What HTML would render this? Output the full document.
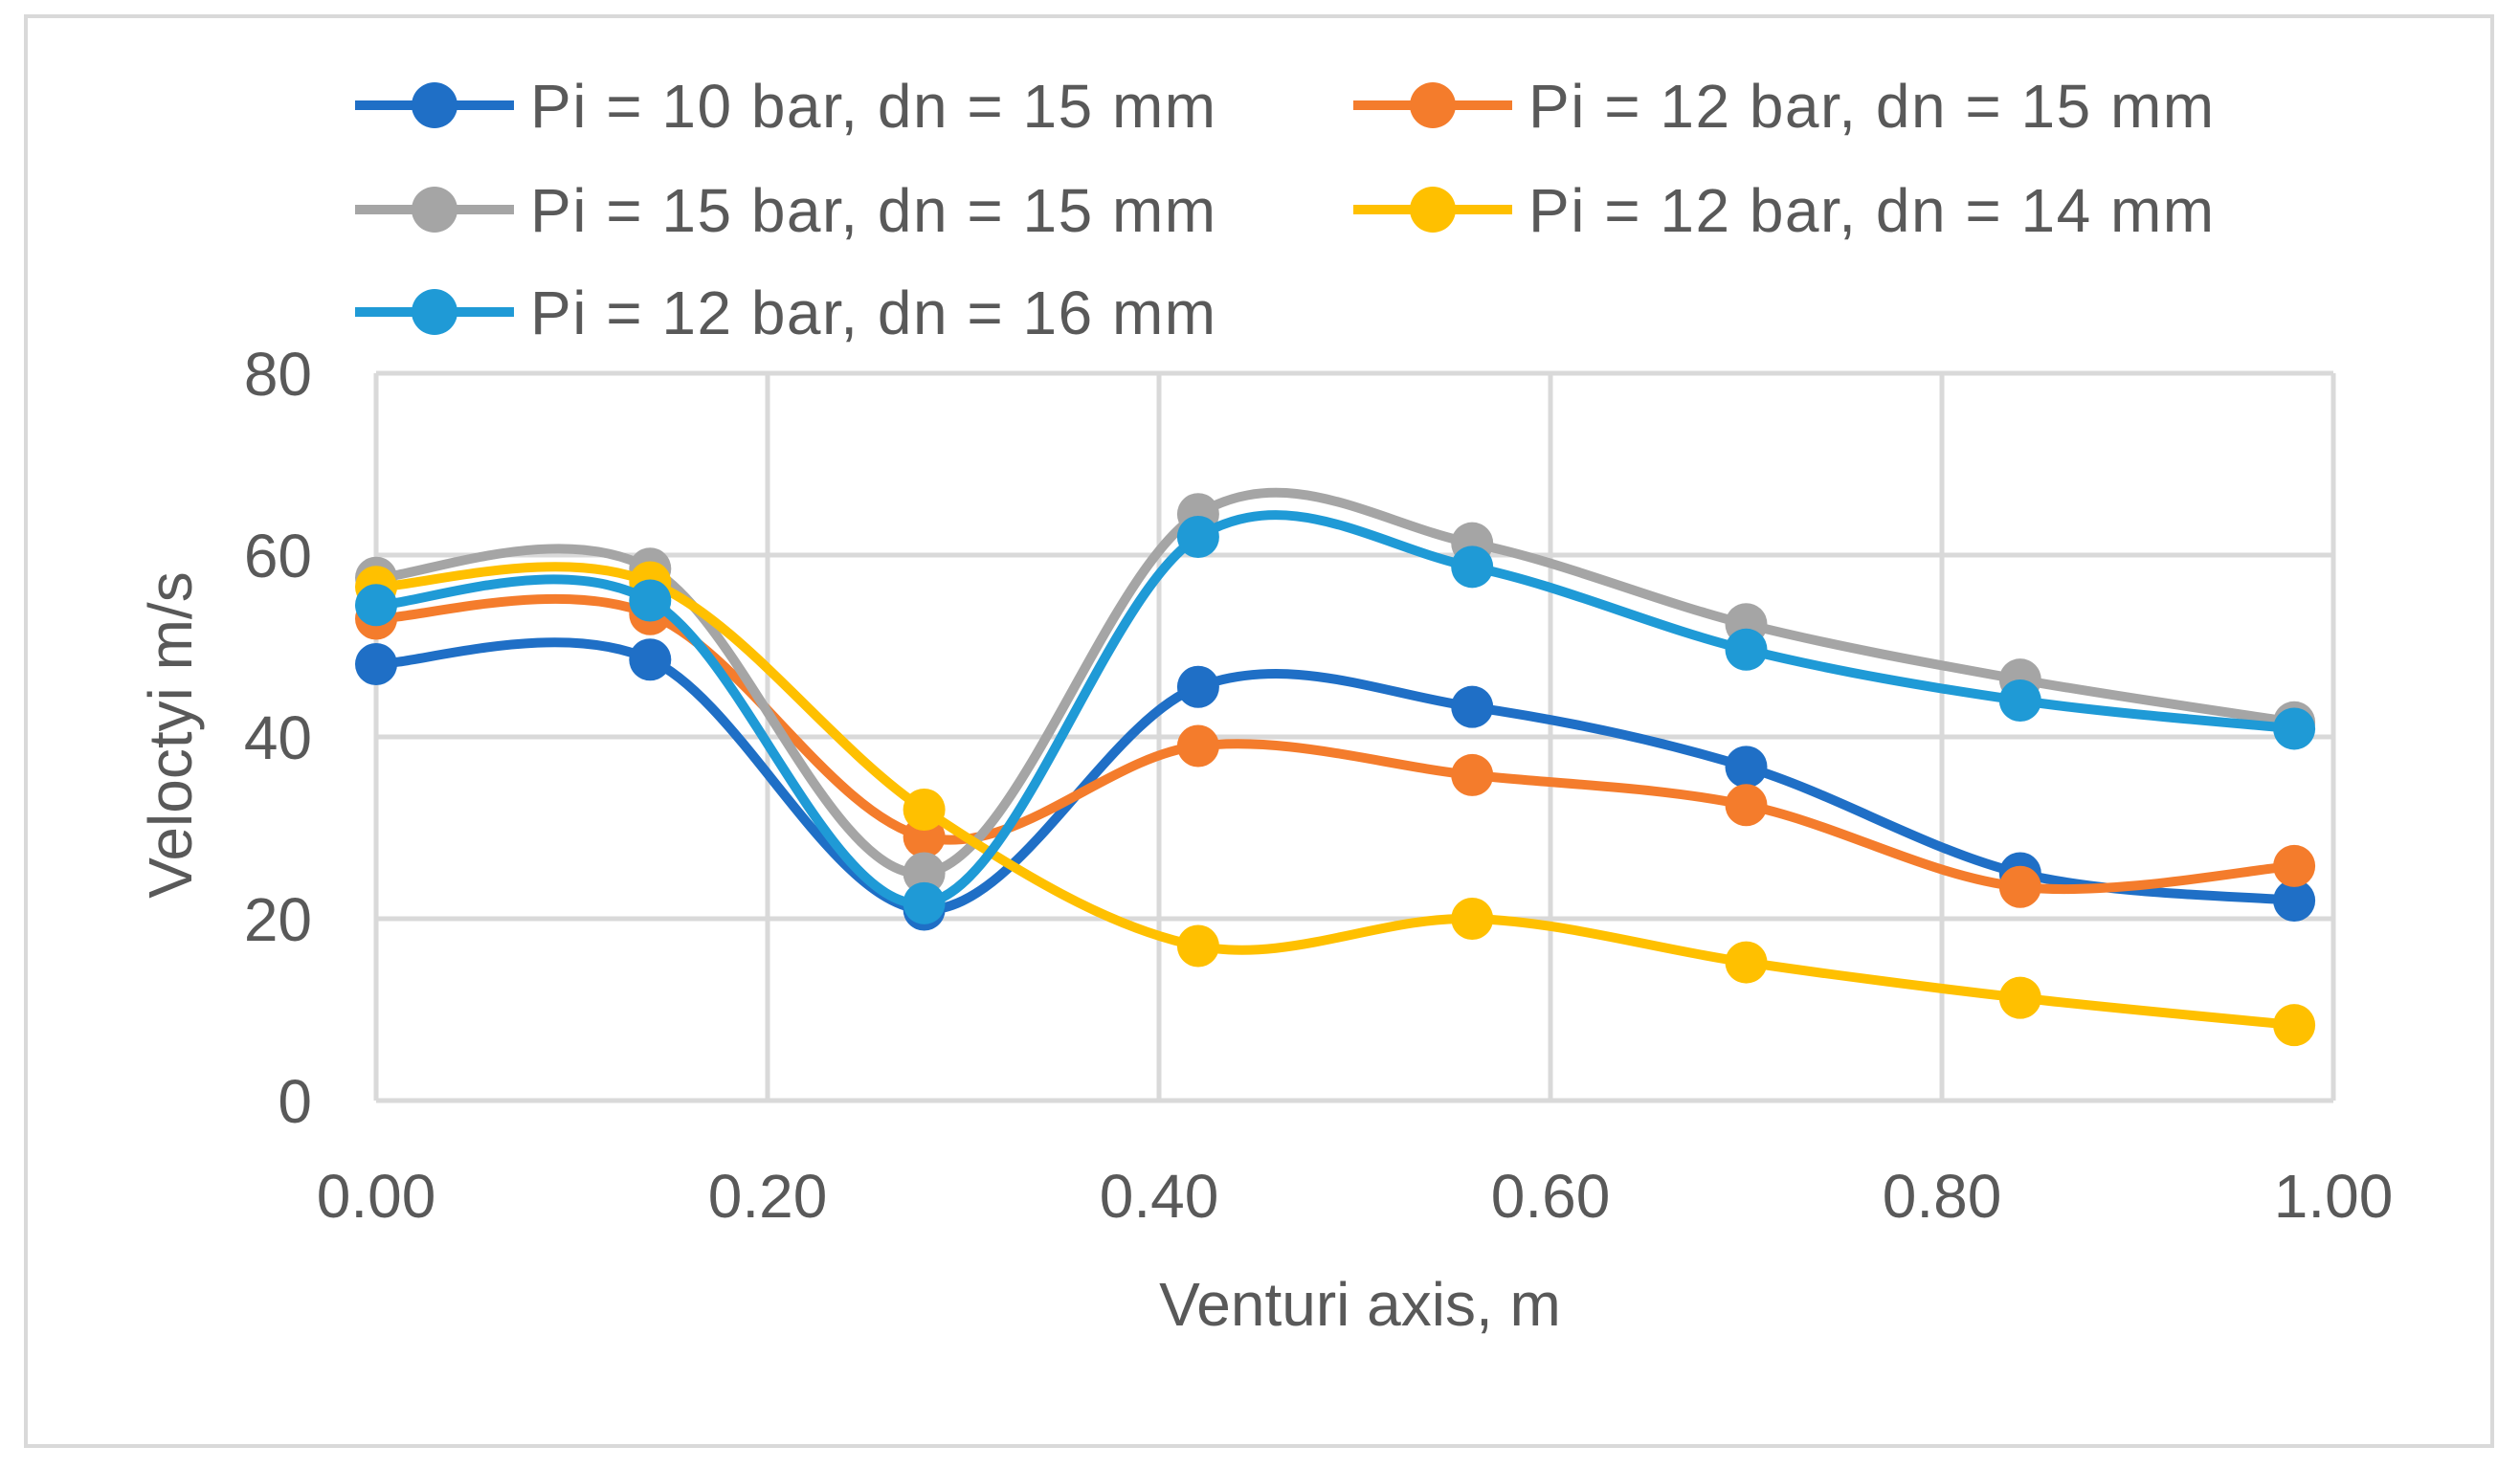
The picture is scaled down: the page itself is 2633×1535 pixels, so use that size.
<!DOCTYPE html>
<html><head><meta charset="utf-8"><style>
html,body{margin:0;padding:0;background:#fff;}
svg{display:block;font-family:"Liberation Sans",sans-serif;}
</style></head><body>
<svg id="chart" width="2633" height="1535" viewBox="0 0 2633 1535">
<rect x="27" y="17" width="2577" height="1494" fill="#fff" stroke="#d9d9d9" stroke-width="4"/>
<g id="grid"></g>
<g id="series"></g>
<g id="legend"></g>
<text x="1421" y="1385" font-size="64" fill="#595959" text-anchor="middle">Venturi axis, m</text>
<text transform="translate(200,768) rotate(-90)" font-size="64" fill="#595959" text-anchor="middle">Veloctyi m/s</text>
</svg>
<script>
const xValues=[0,0.14,0.28,0.42,0.56,0.70,0.84,0.98];
const xTicks=[0,0.2,0.4,0.6,0.8,1.0];
const xTickLabels=["0.00","0.20","0.40","0.60","0.80","1.00"];
const yTicks=[0,20,40,60,80];
const seriesNames=["Pi = 10 bar, dn = 15 mm","Pi = 12 bar, dn = 15 mm","Pi = 15 bar, dn = 15 mm","Pi = 12 bar, dn = 14 mm","Pi = 12 bar, dn = 16 mm"];
const s10_15=[48,48.5,21,45.5,43.3,36.7,25,22];
const s12_15=[53,53.5,29,39,35.8,32.5,23.5,25.8];
const s15_15=[57.5,58.5,25,64.5,61.3,52.4,46.3,41.6];
const s12_14=[56.5,57,32,17,20,15.2,11.3,8.3];
const s12_16=[54.5,55,21.7,62,58.7,49.6,44,40.9];
const seriesData=[s10_15,s12_15,s15_15,s12_14,s12_16];
const colors=["#1f6fc6","#f47c2c","#a5a5a5","#ffc000","#1f9ad6"];
const NS="http://www.w3.org/2000/svg";
const X=v=>393+v*2045;
const Y=v=>1150-v*(760/80);
function mk(t,a,p){const e=document.createElementNS(NS,t);for(const k in a)e.setAttribute(k,a[k]);p.appendChild(e);return e;}
const grid=document.getElementById('grid');
yTicks.forEach(t=>{
  const l=mk('line',{x1:X(0),x2:X(1),y1:Y(t),y2:Y(t),stroke:'#d9d9d9','stroke-width':5},grid);
  
  
  const tx=mk('text',{x:326,y:Y(t)+23,'font-size':64,fill:'#595959','text-anchor':'end'},grid);
  tx.textContent=t;
  
  
});
xTicks.forEach((t,i)=>{
  const l=mk('line',{x1:X(t),x2:X(t),y1:Y(0),y2:Y(80),stroke:'#d9d9d9','stroke-width':5},grid);
  
  
  const tx=mk('text',{x:X(t),y:1272,'font-size':64,fill:'#595959','text-anchor':'middle'},grid);
  tx.textContent=xTickLabels[i];
  
  
});
const ser=document.getElementById('series');
function smooth(pts){
  let d=`M${pts[0][0]},${pts[0][1]}`;
  for(let i=0;i<pts.length-1;i++){
    const p0=pts[i-1]||pts[i],p1=pts[i],p2=pts[i+1],p3=pts[i+2]||p2;
    const c1=[p1[0]+(p2[0]-p0[0])/6,p1[1]+(p2[1]-p0[1])/6];
    const c2=[p2[0]-(p3[0]-p1[0])/6,p2[1]-(p3[1]-p1[1])/6];
    d+=` C${c1[0]},${c1[1]} ${c2[0]},${c2[1]} ${p2[0]},${p2[1]}`;
  }
  return d;
}
seriesData.forEach((vals,si)=>{
  const g=mk('g',{},ser);
  
  
  const pts=vals.map((v,i)=>[X(xValues[i]),Y(v)]);
  const p=mk('path',{d:smooth(pts),fill:'none',stroke:colors[si],'stroke-width':10,'stroke-linecap':'round'},g);
  
  
  pts.forEach(q=>{
    const c=mk('circle',{cx:q[0],cy:q[1],r:22,fill:colors[si]},g);
    
    
  });
});
const leg=document.getElementById('legend');
const legPos=[[371,110],[1414,110],[371,219],[1414,219],[371,326]];
seriesNames.forEach((n,i)=>{
  const [lx,ly]=legPos[i];
  const g=mk('g',{},leg);
  
  
  mk('line',{x1:lx,x2:lx+166,y1:ly,y2:ly,stroke:colors[i],'stroke-width':10},g);
  mk('circle',{cx:lx+83,cy:ly,r:24,fill:colors[i]},g);
  const t=mk('text',{x:lx+183,y:ly+23,'font-size':64,fill:'#595959','letter-spacing':'1.5'},g);
  t.textContent=n;
});
</script>
</body></html>
